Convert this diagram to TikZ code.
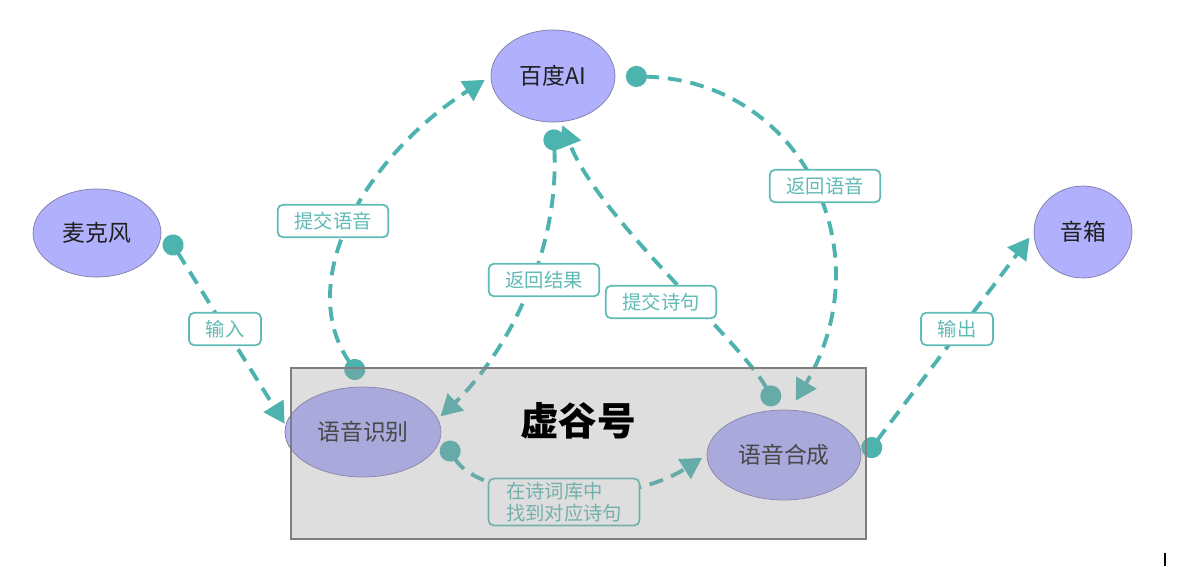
\documentclass[tikz,border=0pt]{standalone}
\usepackage{fontspec}
\setmainfont{Noto Sans CJK SC}
\usetikzlibrary{arrows.meta,shapes.geometric}

\definecolor{lavender}{RGB}{177,176,252}
\definecolor{lavedge}{RGB}{128,122,168}
\definecolor{flowteal}{RGB}{77,179,174}
\definecolor{lblteal}{RGB}{96,186,181}
\definecolor{boxgray}{RGB}{156,156,156}
\definecolor{boxedge}{RGB}{127,127,127}

\tikzset{
  device/.style={ellipse,draw=lavedge,fill=lavender,inner sep=0pt,text=black!88,
    font=\fontsize{13}{15}\selectfont},
  flow/.style={flowteal,line width=2.2pt,dash pattern=on 8pt off 5pt,
    arrows={Circle[length=12pt]-Triangle[length=12pt,width=13pt]}},
  lbl/.style={rectangle,draw=lblteal,line width=1pt,fill=white,rounded corners=3pt,
    text=lblteal,font=\fontsize{11}{13}\selectfont,inner xsep=9.5pt,inner ysep=2pt,
    minimum height=18.5pt}
}

\begin{document}
\begin{tikzpicture}[x=0.02cm,y=-0.02cm]
        \useasboundingbox (0,0) rectangle (1194,566);
        % devices
        \node[device,minimum width=2.56cm,minimum height=1.76cm] at (97,233) (mic) {麦克风};
        \node[device,minimum width=2.48cm,minimum height=1.84cm] at (553,76) (baidu) {百度AI};
        \node[device,minimum width=1.96cm,minimum height=1.84cm] at (1083,232) (spk) {音箱};
        \node[device,minimum width=3.12cm,minimum height=1.8cm] at (363,432) (asr) {语音识别};
        \node[device,minimum width=3.08cm,minimum height=1.8cm] at (784,455) (tts) {语音合成};
        % flows
        \draw[flow,shorten <=8pt,shorten >=1pt] (mic.8) -- (asr.175);
        \draw[flow,shorten <=6pt,shorten >=4pt] (asr.85) .. controls (295,285) and (360,160) .. (baidu.west);
        \draw[flow,shorten <=6pt,shorten >=6pt] (baidu.east) .. controls (800,80) and (885,250) .. (tts.82);
        \draw[flow,shorten <=4pt,shorten >=2pt] (baidu.south) .. controls (560,260) and (500,360) .. (asr.10);
        \draw[flow,shorten <=3pt,shorten >=2pt] (tts.97) .. controls (740,340) and (600,220) .. (baidu.-80);
        \draw[flow,shorten <=4pt,shorten >=3pt] (asr.-3) .. controls (480,500) and (620,510) .. (tts.west);
        \draw[flow,shorten <=5pt,shorten >=4pt] (tts.-6) -- (spk.west);
        % labels
        \node[lbl] at (225,329) (lin) {输入};
        \node[lbl] at (333,221) (lasr) {提交语音};
        \node[lbl] at (544,280) (lres) {返回结果};
        \node[lbl] at (661,302) (lpoem) {提交诗句};
        \node[lbl] at (825,186) (lvoice) {返回语音};
        \node[lbl] at (957,329) (lout) {输出};
        \node[lbl,align=left,inner xsep=10pt,font=\fontsize{11}{12.5}\selectfont] at (564,502) (lfind) {在诗词库中\\找到对应诗句};
        % board
        \node[rectangle,fill=boxgray,fill opacity=0.33,minimum width=11.5cm,minimum height=3.42cm] at (578.5,453.5) (board) {};
        \draw[boxedge,line width=1pt] (board.south west) rectangle (board.north east);
        \node[font=\fontsize{22}{26}\selectfont\bfseries] at (578,421) (vgh) {虚谷号};
        \draw[line width=1.2pt] (1165,553) -- (1165,566);
    \end{tikzpicture}
\end{document}
